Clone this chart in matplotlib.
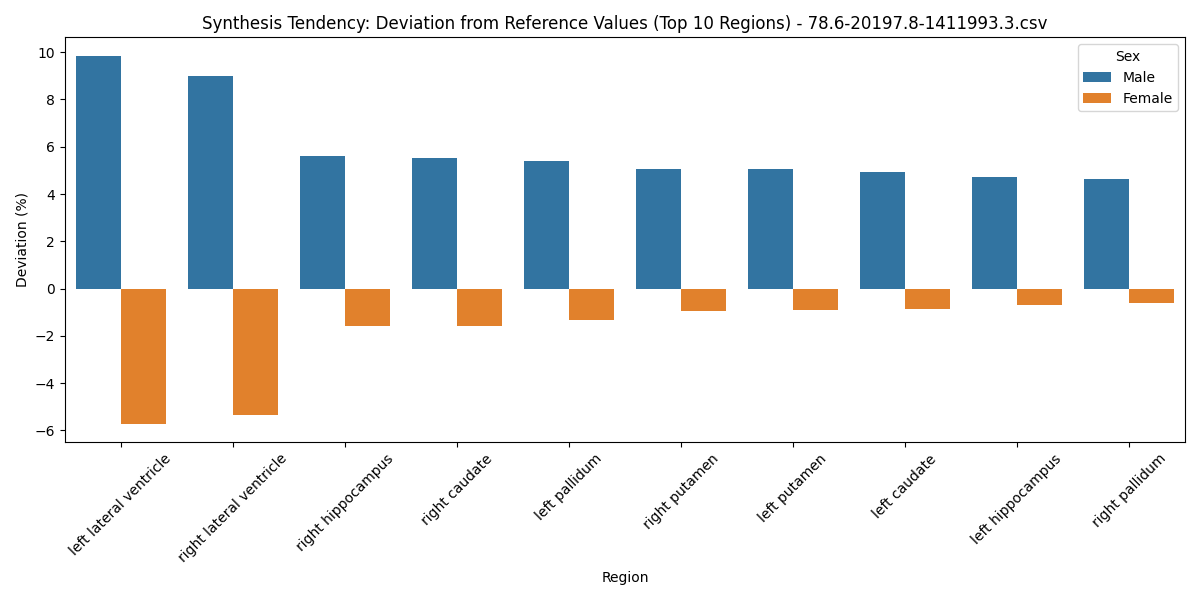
import matplotlib
matplotlib.use("Agg")
import matplotlib.pyplot as plt
import seaborn as sns
import pandas as pd

regions = ["left lateral ventricle", "right lateral ventricle", "right hippocampus",
           "right caudate", "left pallidum", "right putamen", "left putamen",
           "left caudate", "left hippocampus", "right pallidum"]
male = [9.85, 9.00, 5.61, 5.53, 5.40, 5.06, 5.06, 4.94, 4.72, 4.64]
female = [-5.71, -5.33, -1.57, -1.57, -1.31, -0.93, -0.89, -0.85, -0.68, -0.63]

df = pd.DataFrame({
    "Region": regions * 2,
    "Deviation": male + female,
    "Sex": ["Male"] * len(regions) + ["Female"] * len(regions),
})

fig, ax = plt.subplots(figsize=(12, 6), dpi=100)
sns.barplot(data=df, x="Region", y="Deviation", hue="Sex", ax=ax)
ax.set_title("Synthesis Tendency: Deviation from Reference Values (Top 10 Regions) - 78.6-20197.8-1411993.3.csv")
ax.set_xlabel("Region")
ax.set_ylabel("Deviation (%)")
plt.xticks(rotation=45)
plt.tight_layout()
plt.savefig("out.png")
